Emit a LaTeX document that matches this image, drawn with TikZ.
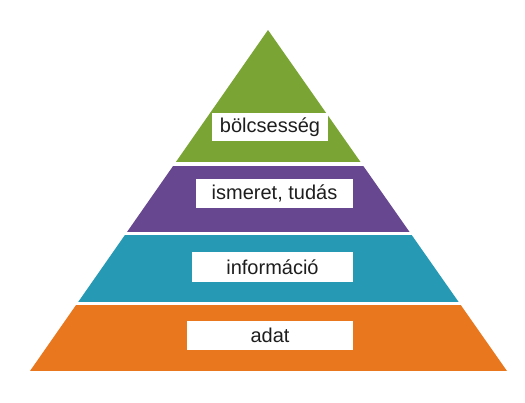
\documentclass[tikz,border=0pt]{standalone}
\usepackage{fontspec}
\setmainfont{Liberation Sans}
\definecolor{lgreen}{RGB}{122,165,52}
\definecolor{lpurple}{RGB}{104,71,145}
\definecolor{lteal}{RGB}{38,154,181}
\definecolor{lorange}{RGB}{232,119,30}
\definecolor{ltext}{RGB}{30,30,30}
\tikzset{
  labelbox/.style={fill=white, inner sep=0pt, text=ltext,
    font=\fontsize{20}{24}\selectfont, anchor=center},
}
\begin{document}
\begin{tikzpicture}[x=1pt,y=-1pt]
\useasboundingbox (0,0) rectangle (525,402);
\fill[white] (0,0) rectangle (525,402);
\begin{scope}
  \clip (268,30) -- (507,371) -- (30,371) -- cycle;
  \fill[lgreen]  (0,20)  rectangle (525,162);
  \fill[lpurple] (0,166) rectangle (525,232);
  \fill[lteal]   (0,235) rectangle (525,302);
  \fill[lorange] (0,305) rectangle (525,371);
\end{scope}
\node[labelbox, minimum width=116pt, minimum height=28pt] (wis) at (270,127) {bölcsesség};
\node[labelbox, minimum width=157pt, minimum height=29pt] (kno) at (274.5,193.5) {ismeret, tudás};
\node[labelbox, minimum width=161pt, minimum height=30pt] (inf) at (272.5,267) {információ};
\node[labelbox, minimum width=166pt, minimum height=29pt] (dat) at (270,335.5) {adat};
\end{tikzpicture}
\end{document}
